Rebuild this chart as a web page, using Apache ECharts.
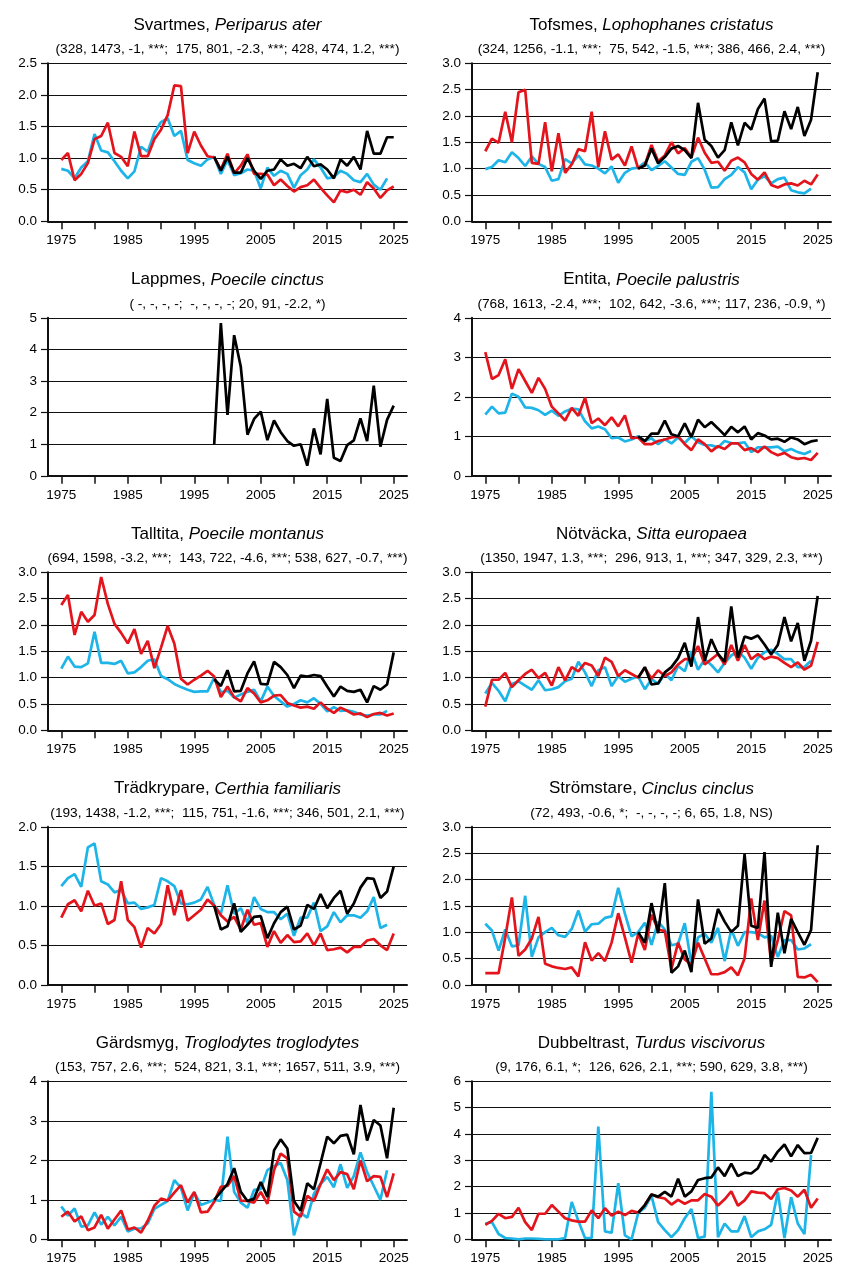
<!DOCTYPE html>
<html>
<head>
<meta charset="utf-8">
<title>Mesar m.fl.</title>
<script src="https://cdn.jsdelivr.net/npm/echarts@6/dist/echarts.min.js"></script>
<style>
  html, body { margin: 0; padding: 0; background: #fff; }
  #main { width: 848px; height: 1272px; }
</style>
</head>
<body>
<div id="main"></div>
<script>
// år och axelmarkeringar
const years = [1975, 1976, 1977, 1978, 1979, 1980, 1981, 1982, 1983, 1984,
  1985, 1986, 1987, 1988, 1989, 1990, 1991, 1992, 1993, 1994,
  1995, 1996, 1997, 1998, 1999, 2000, 2001, 2002, 2003, 2004,
  2005, 2006, 2007, 2008, 2009, 2010, 2011, 2012, 2013, 2014,
  2015, 2016, 2017, 2018, 2019, 2020, 2021, 2022, 2023, 2024, 2025]
const tickYears = [1975, 1980, 1985, 1990, 1995, 2000, 2005, 2010, 2015, 2020, 2025]
const labelYears = [1975, 1985, 1995, 2005, 2015, 2025]

// Svartmes
const svartmesCyan = [0.83, 0.80, 0.68, 0.85, 0.95, 1.38, 1.12, 1.09, 0.95, 0.80,
  0.68, 0.79, 1.18, 1.10, 1.40, 1.57, 1.63, 1.35, 1.43, 0.97,
  0.92, 0.88, 0.98, 1.02, 0.75, 0.97, 0.73, 0.76, 0.82, 0.80,
  0.52, 0.85, 0.72, 0.80, 0.75, 0.53, 0.73, 0.82, 0.98, 0.85,
  0.68, 0.70, 0.80, 0.75, 0.65, 0.62, 0.75, 0.58, 0.50, 0.68]
const svartmesRed = [0.97, 1.08, 0.65, 0.75, 0.92, 1.30, 1.35, 1.56, 1.08, 1.02,
  0.87, 1.42, 1.03, 1.03, 1.30, 1.45, 1.68, 2.15, 2.14, 1.08,
  1.42, 1.20, 1.03, 1.01, 0.82, 1.07, 0.76, 0.88, 1.06, 0.75,
  0.75, 0.74, 0.57, 0.66, 0.56, 0.47, 0.54, 0.57, 0.66, 0.53,
  0.41, 0.30, 0.49, 0.46, 0.50, 0.42, 0.62, 0.52, 0.37, 0.49, 0.55]
const svartmesBlack = [1.02, 0.80, 1.02, 0.77, 0.77, 1.00, 0.80, 0.67, 0.80, 0.82,
  0.98, 0.88, 0.91, 0.84, 1.02, 0.87, 0.90, 0.82, 0.68, 0.98,
  0.88, 1.02, 0.82, 1.43, 1.07, 1.07, 1.33, 1.33]

// Tofsmes
const tofsmesCyan = [0.99, 1.03, 1.16, 1.12, 1.31, 1.20, 1.05, 1.23, 1.09, 1.03,
  0.77, 0.80, 1.18, 1.10, 1.25, 1.08, 1.06, 1.00, 0.91, 1.04,
  0.73, 0.92, 1.00, 1.02, 1.12, 0.97, 1.05, 1.14, 1.02, 0.90,
  0.88, 1.13, 1.20, 0.98, 0.64, 0.65, 0.80, 0.88, 1.03, 0.93,
  0.61, 0.79, 0.86, 0.72, 0.80, 0.83, 0.59, 0.55, 0.53, 0.62]
const tofsmesRed = [1.33, 1.57, 1.49, 2.08, 1.50, 2.45, 2.50, 1.11, 1.09, 1.88,
  0.95, 1.67, 0.92, 1.08, 1.37, 1.33, 2.08, 1.03, 1.71, 1.17,
  1.27, 1.06, 1.42, 1.00, 1.07, 1.45, 1.14, 1.25, 1.50, 1.29,
  1.39, 1.21, 1.59, 1.30, 1.11, 1.13, 0.96, 1.15, 1.21, 1.12,
  0.90, 0.79, 0.93, 0.69, 0.64, 0.70, 0.72, 0.68, 0.77, 0.70, 0.89]
const tofsmesBlack = [1.00, 1.06, 1.38, 1.10, 1.22, 1.38, 1.43, 1.35, 1.20, 2.25,
  1.55, 1.43, 1.21, 1.35, 1.88, 1.44, 1.87, 1.74, 2.13, 2.33,
  1.52, 1.53, 2.09, 1.75, 2.17, 1.62, 1.93, 2.83]

// Lappmes (bara ny serie)
const lappmesBlack = [1.00, 4.83, 1.93, 4.45, 3.45, 1.30, 1.80, 2.03, 1.13, 1.75,
  1.38, 1.10, 0.95, 1.00, 0.32, 1.50, 0.68, 2.43, 0.57, 0.47,
  0.97, 1.12, 1.82, 1.10, 2.85, 0.92, 1.77, 2.22]

// Entita
const entitaCyan = [1.55, 1.75, 1.58, 1.60, 2.08, 2.00, 1.73, 1.72, 1.66, 1.54,
  1.65, 1.52, 1.63, 1.70, 1.68, 1.38, 1.20, 1.25, 1.18, 0.95,
  0.97, 0.87, 0.92, 1.00, 0.88, 0.95, 0.80, 0.93, 0.82, 0.97,
  0.83, 1.00, 0.85, 0.78, 0.77, 0.72, 0.88, 0.83, 0.82, 0.85,
  0.60, 0.72, 0.72, 0.72, 0.74, 0.62, 0.68, 0.60, 0.55, 0.63]
const entitaRed = [3.13, 2.45, 2.55, 2.95, 2.20, 2.70, 2.40, 2.10, 2.48, 2.20,
  1.75, 1.58, 1.40, 1.72, 1.52, 1.98, 1.33, 1.45, 1.28, 1.48,
  1.25, 1.53, 0.95, 0.97, 0.80, 0.80, 0.88, 0.92, 0.97, 1.00,
  0.80, 0.65, 0.92, 0.80, 0.62, 0.75, 0.68, 0.82, 0.82, 0.65,
  0.70, 0.60, 0.74, 0.60, 0.52, 0.58, 0.47, 0.43, 0.45, 0.40, 0.58]
const entitaBlack = [1.00, 0.88, 1.07, 1.07, 1.40, 1.05, 1.00, 1.33, 0.98, 1.42,
  1.23, 1.36, 1.20, 1.03, 1.24, 1.10, 1.25, 0.92, 1.08, 1.02,
  0.92, 0.94, 0.86, 0.97, 0.92, 0.80, 0.87, 0.90]

// Talltita
const talltitaCyan = [1.17, 1.40, 1.21, 1.20, 1.27, 1.87, 1.28, 1.28, 1.26, 1.32,
  1.08, 1.10, 1.20, 1.32, 1.35, 1.03, 0.97, 0.88, 0.82, 0.77,
  0.73, 0.74, 0.74, 1.00, 0.72, 0.75, 0.62, 0.68, 0.73, 0.77,
  0.55, 0.83, 0.65, 0.55, 0.45, 0.50, 0.57, 0.53, 0.61, 0.50,
  0.36, 0.44, 0.37, 0.38, 0.35, 0.30, 0.28, 0.30, 0.30, 0.37]
const talltitaRed = [2.38, 2.57, 1.81, 2.25, 2.06, 2.19, 2.91, 2.40, 2.02, 1.85,
  1.65, 1.92, 1.45, 1.70, 1.18, 1.57, 1.98, 1.65, 0.98, 0.87,
  0.96, 1.04, 1.13, 1.02, 0.63, 0.83, 0.63, 0.55, 0.80, 0.70,
  0.53, 0.57, 0.66, 0.67, 0.52, 0.47, 0.43, 0.45, 0.41, 0.53,
  0.41, 0.33, 0.43, 0.37, 0.30, 0.32, 0.25, 0.31, 0.33, 0.28, 0.32]
const talltitaBlack = [0.97, 0.84, 1.14, 0.74, 0.75, 1.08, 1.31, 0.88, 0.87, 1.30,
  1.20, 1.05, 0.80, 1.04, 1.02, 1.05, 1.03, 0.83, 0.64, 0.83,
  0.75, 0.73, 0.77, 0.53, 0.84, 0.77, 0.87, 1.48]

// Nötväcka
const notvackaCyan = [0.70, 0.90, 0.75, 0.55, 0.88, 0.93, 0.85, 0.77, 0.95, 0.76,
  0.78, 0.82, 0.93, 0.98, 1.30, 1.10, 0.84, 1.14, 1.20, 0.84,
  1.03, 0.92, 0.98, 1.02, 0.78, 0.97, 0.88, 1.08, 0.95, 1.22,
  1.12, 1.50, 1.15, 1.35, 1.24, 1.10, 1.28, 1.42, 1.50, 1.38,
  1.17, 1.38, 1.48, 1.53, 1.45, 1.35, 1.35, 1.20, 1.20, 1.32]
const notvackaRed = [0.45, 0.96, 0.96, 1.09, 0.82, 0.95, 1.07, 1.15, 0.99, 1.09,
  0.85, 1.20, 0.95, 1.20, 1.12, 1.28, 1.23, 1.03, 1.38, 1.30,
  1.03, 1.14, 1.07, 1.00, 1.19, 0.98, 1.14, 1.03, 1.10, 1.25,
  1.35, 1.35, 1.60, 1.25, 1.35, 1.45, 1.25, 1.62, 1.32, 1.62,
  1.35, 1.45, 1.35, 1.40, 1.37, 1.28, 1.20, 1.29, 1.15, 1.23, 1.68]
const notvackaBlack = [1.00, 1.20, 0.87, 0.89, 1.10, 1.20, 1.37, 1.66, 1.21, 2.15,
  1.32, 1.73, 1.45, 1.30, 2.35, 1.38, 1.78, 1.74, 1.80, 1.63,
  1.44, 1.62, 2.15, 1.69, 2.04, 1.32, 1.70, 2.55]

// Trädkrypare
const tradkrypareCyan = [1.25, 1.35, 1.40, 1.24, 1.74, 1.79, 1.31, 1.27, 1.17, 1.20,
  1.03, 1.04, 0.96, 0.98, 1.01, 1.35, 1.31, 1.25, 1.03, 1.02,
  1.04, 1.08, 1.24, 1.01, 0.90, 1.26, 0.90, 0.97, 0.78, 1.11,
  0.96, 0.92, 0.92, 0.83, 0.90, 0.62, 0.85, 0.85, 1.04, 0.68,
  0.74, 0.92, 0.79, 0.88, 0.88, 0.85, 0.93, 1.11, 0.72, 0.76]
const tradkrypareRed = [0.85, 1.02, 1.07, 0.93, 1.19, 1.00, 1.03, 0.77, 0.82, 1.31,
  0.82, 0.73, 0.47, 0.72, 0.65, 0.77, 1.26, 0.88, 1.20, 0.81,
  0.88, 0.95, 1.08, 1.00, 0.88, 0.80, 0.86, 0.70, 0.95, 0.76,
  0.78, 0.48, 0.68, 0.53, 0.63, 0.54, 0.55, 0.65, 0.50, 0.65,
  0.44, 0.45, 0.47, 0.41, 0.48, 0.48, 0.56, 0.58, 0.50, 0.44, 0.65]
const tradkrypareBlack = [1.00, 0.70, 0.74, 1.03, 0.67, 0.76, 0.86, 0.87, 0.59, 0.78,
  0.92, 0.99, 0.70, 0.75, 1.01, 0.96, 1.15, 0.97, 1.10, 1.19,
  0.90, 1.03, 1.23, 1.35, 1.34, 1.10, 1.18, 1.50]

// Strömstare
const stromstareCyan = [1.16, 1.03, 0.65, 1.05, 0.73, 0.75, 1.69, 0.53, 0.90, 1.00,
  1.08, 0.94, 0.91, 1.06, 1.41, 1.01, 1.15, 1.16, 1.27, 1.30,
  1.84, 1.35, 0.92, 1.00, 1.18, 0.76, 1.20, 1.05, 0.75, 0.78,
  1.17, 0.40, 0.90, 0.97, 0.80, 1.08, 0.45, 1.05, 0.74, 1.00,
  1.00, 0.98, 0.90, 0.93, 0.53, 0.85, 0.85, 0.67, 0.69, 0.77]
const stromstareRed = [0.22, 0.22, 0.22, 0.90, 1.66, 0.55, 0.67, 0.88, 1.29, 0.40,
  0.35, 0.32, 0.30, 0.33, 0.16, 0.81, 0.46, 0.60, 0.45, 0.80,
  1.36, 0.90, 0.42, 0.97, 0.66, 1.33, 1.05, 1.02, 0.30, 0.80,
  0.48, 0.38, 0.80, 0.50, 0.20, 0.20, 0.24, 0.33, 0.18, 0.50,
  1.64, 0.85, 1.60, 0.40, 0.85, 1.40, 1.32, 0.15, 0.14, 0.19, 0.05]
const stromstareBlack = [1.00, 0.80, 1.55, 0.98, 1.93, 0.23, 0.35, 0.65, 0.24, 1.62,
  0.78, 0.88, 1.44, 1.20, 1.00, 1.12, 2.48, 1.12, 1.08, 2.52,
  0.34, 1.37, 0.60, 1.25, 1.00, 0.76, 1.04, 2.65]

// Gärdsmyg
const gardsmygCyan = [0.83, 0.60, 0.78, 0.32, 0.35, 0.68, 0.37, 0.57, 0.35, 0.57,
  0.20, 0.27, 0.28, 0.40, 0.77, 0.87, 0.97, 1.50, 1.30, 0.73,
  1.18, 0.87, 0.93, 1.00, 0.97, 2.60, 1.20, 0.93, 0.80, 1.25,
  1.27, 1.75, 1.85, 1.93, 1.50, 0.10, 0.67, 0.55, 1.15, 1.40,
  1.58, 1.32, 1.90, 1.30, 1.60, 2.20, 1.70, 1.35, 1.00, 1.75]
const gardsmygRed = [0.57, 0.70, 0.45, 0.58, 0.23, 0.30, 0.62, 0.27, 0.50, 0.73,
  0.25, 0.30, 0.17, 0.47, 0.85, 1.03, 0.98, 1.18, 1.37, 0.93,
  1.20, 0.68, 0.70, 0.95, 1.33, 1.35, 1.60, 0.98, 0.97, 0.93,
  1.20, 0.90, 1.75, 2.17, 2.05, 0.70, 0.57, 1.10, 0.97, 1.40,
  1.77, 1.50, 1.70, 1.65, 1.27, 2.00, 1.47, 1.60, 1.58, 1.07, 1.67]
const gardsmygBlack = [1.00, 1.20, 1.40, 1.80, 1.20, 0.97, 1.03, 1.45, 1.07, 2.25,
  2.53, 2.30, 0.97, 0.72, 1.42, 1.27, 1.93, 2.60, 2.43, 2.62,
  2.65, 2.15, 3.40, 2.50, 3.02, 2.88, 2.05, 3.33]

// Dubbeltrast
const dubbeltrastCyan = [0.60, 0.65, 0.20, 0.05, 0.03, 0.00, 0.03, 0.03, 0.02, 0.00,
  0.00, 0.00, 0.05, 1.42, 0.70, 0.05, 0.05, 4.28, 0.30, 0.25,
  2.13, 0.15, 0.00, 1.00, 1.20, 1.65, 0.65, 0.35, 0.08, 0.35,
  0.80, 1.15, 0.05, 0.10, 5.60, 0.08, 0.60, 0.30, 0.30, 0.88,
  0.08, 0.30, 0.38, 0.55, 1.80, 0.05, 1.60, 0.60, 0.20, 3.20]
const dubbeltrastRed = [0.55, 0.70, 0.97, 0.80, 0.85, 1.20, 0.65, 0.35, 0.97, 0.97,
  1.30, 1.05, 0.80, 0.72, 0.67, 0.67, 1.10, 0.80, 1.18, 0.90,
  1.05, 0.92, 1.08, 1.02, 1.30, 1.70, 1.60, 1.55, 1.32, 1.50,
  1.35, 1.48, 1.48, 1.72, 1.62, 1.28, 1.52, 1.82, 1.28, 1.48,
  1.82, 1.77, 1.75, 1.53, 1.90, 1.95, 1.85, 1.62, 1.88, 1.20, 1.55]
const dubbeltrastBlack = [1.00, 1.30, 1.70, 1.62, 1.80, 1.62, 2.30, 1.62, 1.82, 2.25,
  2.32, 2.35, 2.73, 2.40, 2.87, 2.40, 2.53, 2.50, 2.70, 3.20,
  2.95, 3.33, 3.60, 3.15, 3.58, 3.27, 3.28, 3.85]

// panelerna: namn, latin, statistik, y-max, y-steg, serier
const panels = [
  { name: 'Svartmes', latin: 'Periparus ater', stats: '(328, 1473, -1, ***;  175, 801, -2.3, ***; 428, 474, 1.2, ***)', max: 2.5, step: 0.5, cyan: svartmesCyan, red: svartmesRed, black: svartmesBlack },
  { name: 'Tofsmes', latin: 'Lophophanes cristatus', stats: '(324, 1256, -1.1, ***;  75, 542, -1.5, ***; 386, 466, 2.4, ***)', max: 3, step: 0.5, cyan: tofsmesCyan, red: tofsmesRed, black: tofsmesBlack },
  { name: 'Lappmes', latin: 'Poecile cinctus', stats: '( -, -, -, -;  -, -, -, -; 20, 91, -2.2, *)', max: 5, step: 1, cyan: null, red: null, black: lappmesBlack },
  { name: 'Entita', latin: 'Poecile palustris', stats: '(768, 1613, -2.4, ***;  102, 642, -3.6, ***; 117, 236, -0.9, *)', max: 4, step: 1, cyan: entitaCyan, red: entitaRed, black: entitaBlack },
  { name: 'Talltita', latin: 'Poecile montanus', stats: '(694, 1598, -3.2, ***;  143, 722, -4.6, ***; 538, 627, -0.7, ***)', max: 3, step: 0.5, cyan: talltitaCyan, red: talltitaRed, black: talltitaBlack },
  { name: 'Nötväcka', latin: 'Sitta europaea', stats: '(1350, 1947, 1.3, ***;  296, 913, 1, ***; 347, 329, 2.3, ***)', max: 3, step: 0.5, cyan: notvackaCyan, red: notvackaRed, black: notvackaBlack },
  { name: 'Trädkrypare', latin: 'Certhia familiaris', stats: '(193, 1438, -1.2, ***;  115, 751, -1.6, ***; 346, 501, 2.1, ***)', max: 2, step: 0.5, cyan: tradkrypareCyan, red: tradkrypareRed, black: tradkrypareBlack },
  { name: 'Strömstare', latin: 'Cinclus cinclus', stats: '(72, 493, -0.6, *;  -, -, -, -; 6, 65, 1.8, NS)', max: 3, step: 0.5, cyan: stromstareCyan, red: stromstareRed, black: stromstareBlack },
  { name: 'Gärdsmyg', latin: 'Troglodytes troglodytes', stats: '(153, 757, 2.6, ***;  524, 821, 3.1, ***; 1657, 511, 3.9, ***)', max: 4, step: 1, cyan: gardsmygCyan, red: gardsmygRed, black: gardsmygBlack },
  { name: 'Dubbeltrast', latin: 'Turdus viscivorus', stats: '(9, 176, 6.1, *;  126, 626, 2.1, ***; 590, 629, 3.8, ***)', max: 6, step: 1, cyan: dubbeltrastCyan, red: dubbeltrastRed, black: dubbeltrastBlack }
]

const font = 'Liberation Sans, Arial, Helvetica, sans-serif'
const colCyan = '#1db4e8'
const colRed = '#e3141b'
const colBlack = '#000000'
const blackStart = 23 // index för 1998 i years

// koppla ihop år och värde
function pairs (values, offset) {
  const out = []
  for (let i = 0; i < values.length; i++) {
    out.push([years[i + offset], values[i]])
  }
  return out
}

const grids = []
const xAxes = []
const yAxes = []
const titles = []
const series = []

panels.forEach(function (p, k) {
  const col = k % 2
  const row = Math.floor(k / 2)
  const left = col === 0 ? 48 : 472
  const top = 63.3 + row * 254.5
  const width = 359
  grids.push({ left: left, top: top, width: width, height: 158 })

  titles.push({
    text: p.name + ', {i|' + p.latin + '}',
    subtext: p.stats,
    left: left + width / 2,
    top: top - 46.5,
    textAlign: 'center',
    padding: 0,
    itemGap: 8.5,
    textStyle: {
      fontFamily: font, fontSize: 17, fontWeight: 'normal', color: '#000', lineHeight: 17,
      rich: { i: { fontFamily: font, fontSize: 17, fontStyle: 'italic', color: '#000', lineHeight: 17 } }
    },
    subtextStyle: { fontFamily: font, fontSize: 13.7, color: '#000', lineHeight: 14 }
  })

  xAxes.push({
    type: 'value',
    gridIndex: k,
    min: 1973,
    max: 2027,
    axisLine: { show: true, onZero: false, lineStyle: { color: '#111', width: 2 } },
    axisTick: { show: true, customValues: tickYears, length: 8, lineStyle: { color: '#111', width: 1.5 } },
    axisLabel: {
      customValues: labelYears,
      margin: 12,
      fontFamily: font,
      fontSize: 13.5,
      color: '#000',
      formatter: function (v) { return String(v) }
    },
    splitLine: { show: false }
  })

  yAxes.push({
    type: 'value',
    gridIndex: k,
    min: 0,
    max: p.max,
    interval: p.step,
    axisLine: { show: true, lineStyle: { color: '#111', width: 2 } },
    axisTick: { show: true, length: 7, lineStyle: { color: '#111', width: 1.2 } },
    axisLabel: {
      margin: 11,
      fontFamily: font,
      fontSize: 13.5,
      color: '#000',
      formatter: function (v) { return p.step < 1 ? v.toFixed(1) : String(v) }
    },
    splitLine: { show: true, lineStyle: { color: '#111', width: 1.2 } }
  })

  const lineBase = { type: 'line', xAxisIndex: k, yAxisIndex: k, symbol: 'none', silent: true, animation: false }
  if (p.cyan) series.push(Object.assign({}, lineBase, { name: p.name + ' cyan', data: pairs(p.cyan, 0), lineStyle: { color: colCyan, width: 2.7 } }))
  if (p.red) series.push(Object.assign({}, lineBase, { name: p.name + ' red', data: pairs(p.red, 0), lineStyle: { color: colRed, width: 2.7 } }))
  if (p.black) series.push(Object.assign({}, lineBase, { name: p.name + ' black', data: pairs(p.black, blackStart), lineStyle: { color: colBlack, width: 2.7 } }))
})

const chart = echarts.init(document.getElementById('main'), null, { renderer: 'canvas' })
chart.setOption({
  backgroundColor: '#fff',
  animation: false,
  title: titles,
  grid: grids,
  xAxis: xAxes,
  yAxis: yAxes,
  series: series
})
</script>
</body>
</html>
